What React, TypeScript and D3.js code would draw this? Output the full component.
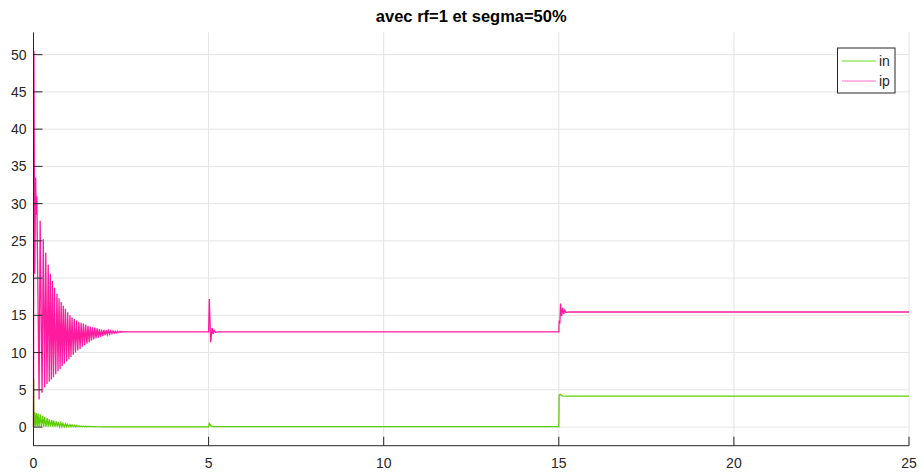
import * as d3 from 'd3';

// time (s) / current pairs
const ipPoints: [number, number][] = [
    [0, 0], [0.012, 50.5], [0.035, 20.6], [0.06, 33.5], [0.075, 28.5], [0.095, 31],
    [0.16, 3.7], [0.19, 27.7], [0.245, 4.6], [0.28, 25.2], [0.32, 5.3], [0.35, 23.4],
    [0.385, 5.8], [0.42, 21.8], [0.45, 6.1], [0.48, 20.6], [0.51, 6.4], [0.54, 19.6],
    [0.57, 6.7], [0.6, 18.7], [0.635, 7.1], [0.67, 17.9], [0.7, 7.5], [0.73, 17.3],
    [0.76, 7.8], [0.79, 16.8], [0.82, 8.2], [0.85, 16.3], [0.88, 8.5], [0.91, 15.9],
    [0.945, 8.8], [0.975, 15.4], [1.01, 9.1], [1.04, 15.0], [1.07, 9.4], [1.1, 14.7],
    [1.135, 9.7], [1.165, 14.5], [1.2, 10.0], [1.23, 14.3], [1.265, 10.3], [1.295, 14.15],
    [1.33, 10.5], [1.36, 14.0], [1.395, 10.8], [1.425, 13.9], [1.46, 11.0], [1.49, 13.75],
    [1.525, 11.2], [1.555, 13.6], [1.59, 11.4], [1.62, 13.5], [1.655, 11.6], [1.685, 13.4],
    [1.72, 11.75], [1.75, 13.35], [1.785, 11.9], [1.815, 13.25], [1.85, 12.0], [1.88, 13.15],
    [1.915, 12.1], [1.945, 13.1], [1.98, 12.2], [2.01, 13.05], [2.045, 12.3], [2.075, 13.0],
    [2.11, 12.4], [2.14, 12.96], [2.175, 12.48], [2.205, 12.93], [2.24, 12.55], [2.27, 12.9],
    [2.305, 12.6], [2.335, 12.88], [2.37, 12.65], [2.4, 12.86], [2.435, 12.7], [2.47, 12.84],
    [2.5, 12.72], [2.53, 12.82], [2.56, 12.75], [2.6, 12.8], [2.65, 12.77], [2.7, 12.79],
    [2.8, 12.78], [5.0, 12.78], [5.02, 17.2], [5.06, 11.4], [5.1, 13.3], [5.13, 12.5],
    [5.16, 13.0], [5.2, 12.7], [5.25, 12.78], [15.0, 12.78], [15.01, 14.3], [15.03, 13.9],
    [15.05, 16.6], [15.08, 14.9], [15.11, 16.0], [15.14, 15.2], [15.17, 15.7], [15.2, 15.4],
    [15.3, 15.45], [25, 15.45],
];

const inPoints: [number, number][] = [
    [0, 0], [0.005, 6.5], [0.015, 0.2], [0.03, 2.0], [0.055, 0.1], [0.08, 1.9],
    [0.105, 0.1], [0.13, 1.8], [0.16, 0.05], [0.19, 1.7], [0.225, 0.05], [0.26, 1.5],
    [0.29, 0.05], [0.32, 1.35], [0.355, 0.05], [0.39, 1.2], [0.42, 0.05], [0.45, 1.05],
    [0.485, 0.05], [0.52, 0.95], [0.55, 0.05], [0.58, 0.85], [0.615, 0.05], [0.65, 0.75],
    [0.68, 0.05], [0.71, 0.65], [0.745, 0.05], [0.78, 0.57], [0.81, 0.05], [0.84, 0.5],
    [0.875, 0.05], [0.91, 0.44], [0.94, 0.05], [0.97, 0.38], [1.005, 0.05], [1.04, 0.33],
    [1.07, 0.05], [1.1, 0.28], [1.135, 0.05], [1.17, 0.24], [1.2, 0.05], [1.23, 0.21],
    [1.265, 0.05], [1.3, 0.18], [1.33, 0.05], [1.36, 0.15], [1.395, 0.05], [1.43, 0.13],
    [1.46, 0.05], [1.5, 0.11], [1.55, 0.05], [1.6, 0.09], [1.65, 0.05], [1.7, 0.07],
    [1.8, 0.05], [2.0, 0.04], [2.5, 0.03], [5.0, 0.03], [5.02, 0.5], [5.07, 0.15],
    [5.12, 0.05], [15.0, 0.05], [15.01, 4.3], [15.04, 4.4], [15.1, 4.2], [15.2, 4.15],
    [25, 4.15],
];

const xTicks = [0, 5, 10, 15, 20, 25];
const yTicks = [0, 5, 10, 15, 20, 25, 30, 35, 40, 45, 50];
const series = [
    { name: 'in', points: inPoints, color: '#5ccf00', legend: '#66dd22' },
    { name: 'ip', points: ipPoints, color: '#ff1a9e', legend: '#ff6ec8' },
];

const W = 919;
const H = 475;
const m = { left: 33.5, right: 909, top: 32.3, bottom: 445.7 };
const font = '"Liberation Sans", Arial, Helvetica, sans-serif';
const axisColor = '#262626';

export default function App() {
    const x = d3.scaleLinear().domain([0, 25]).range([m.left, m.right]);
    const y = d3.scaleLinear().domain([-2.5, 53]).range([m.bottom, m.top]);
    const line = d3
        .line<[number, number]>()
        .x((d) => x(d[0]))
        .y((d) => y(d[1]));

    return (
        <svg
            width={W}
            height={H}
            style={{ position: 'absolute', left: 0, top: 0, background: '#fff' }}
            fontFamily={font}
        >
            {/* grid */}
            {xTicks.slice(1).map((t) => (
                <line key={'gx' + t} x1={x(t)} x2={x(t)} y1={m.top} y2={m.bottom} stroke="#e3e3e3" />
            ))}
            {yTicks.map((t) => (
                <line key={'gy' + t} x1={m.left} x2={m.right} y1={y(t)} y2={y(t)} stroke="#e3e3e3" />
            ))}

            {series.map((s) => (
                <path key={s.name} d={line(s.points) ?? ''} fill="none" stroke={s.color} strokeWidth={1.3} />
            ))}

            {/* axes */}
            <line x1={m.left} x2={m.left} y1={m.top} y2={m.bottom} stroke={axisColor} />
            <line x1={m.left} x2={m.right} y1={m.bottom} y2={m.bottom} stroke={axisColor} />
            {yTicks.map((t) => (
                <g key={'yt' + t}>
                    <line x1={m.left} x2={m.left + 9} y1={y(t)} y2={y(t)} stroke={axisColor} />
                    <text x={m.left - 7} y={y(t)} dy="0.36em" textAnchor="end" fontSize={14} fill={axisColor}>
                        {t}
                    </text>
                </g>
            ))}
            {xTicks.map((t) => (
                <g key={'xt' + t}>
                    <line x1={x(t)} x2={x(t)} y1={m.bottom} y2={m.bottom - 9} stroke={axisColor} />
                    <text x={x(t)} y={468} textAnchor="middle" fontSize={14} fill={axisColor}>
                        {t}
                    </text>
                </g>
            ))}

            <text x={(m.left + m.right) / 2} y={22} textAnchor="middle" fontSize={16.5} fontWeight="bold" fill="#000">
                avec rf=1 et segma=50%
            </text>

            {/* legend */}
            <rect x={837.5} y={48} width={57.5} height={45} fill="#fff" stroke={axisColor} />
            {series.map((s, i) => (
                <g key={'lg' + s.name}>
                    <line x1={842} x2={876} y1={61 + i * 20} y2={61 + i * 20} stroke={s.legend} strokeWidth={1.2} />
                    <text x={879} y={61 + i * 20} dy="0.36em" fontSize={14} fill={axisColor}>
                        {s.name}
                    </text>
                </g>
            ))}
        </svg>
    );
}
